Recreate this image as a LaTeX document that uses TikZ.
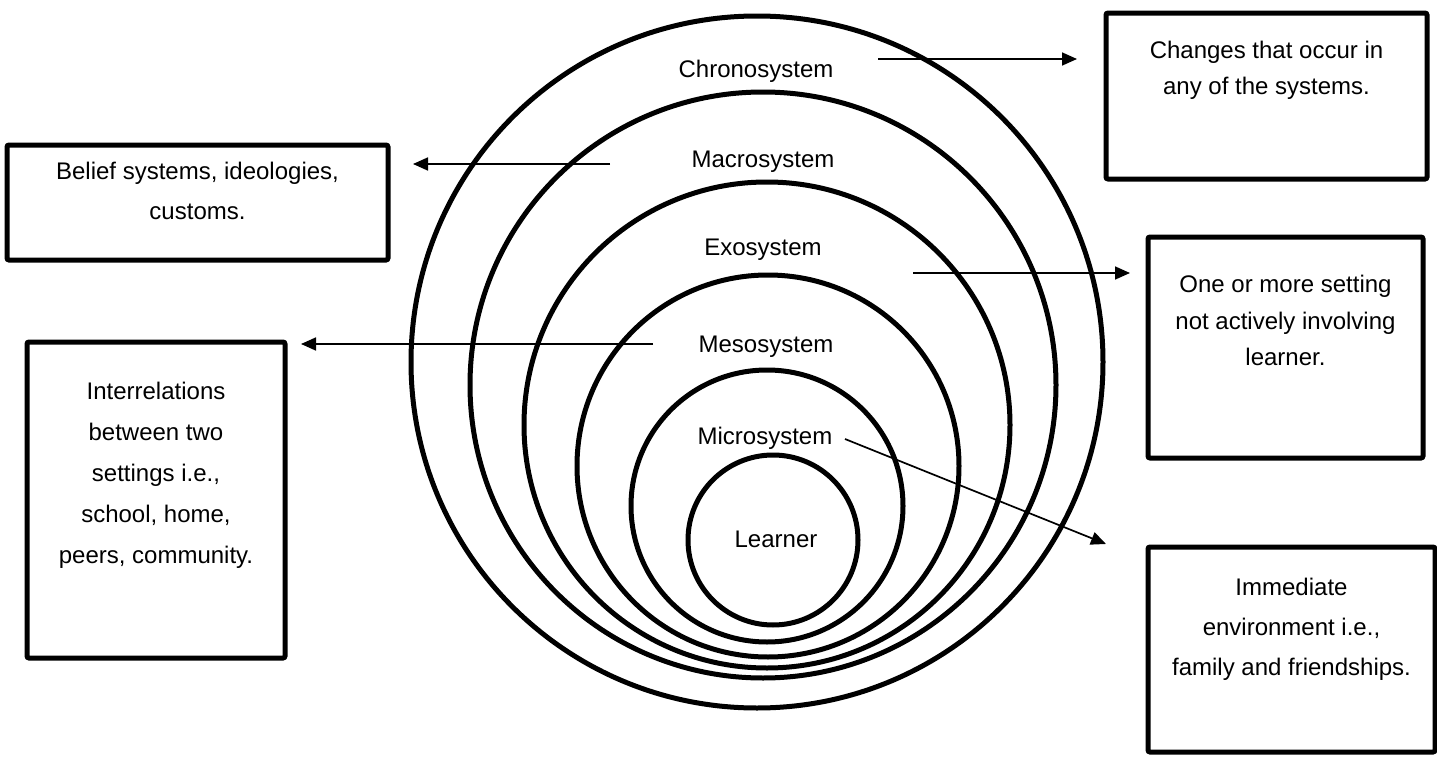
\documentclass[tikz,border=0pt]{standalone}
\usepackage{fontspec}
\setmainfont{Liberation Sans}
\usetikzlibrary{arrows.meta, positioning}

\begin{document}
\begin{tikzpicture}[x=0.5pt,y=-0.5pt,%
  RingStyle/.style={draw=black,line width=2.5pt},
  LabelStyle/.style={anchor=base,inner sep=0pt,font=\fontsize{12}{14}\selectfont},
  BoxStyle/.style={draw=black,line width=2.5pt,rounded corners=1pt,inner sep=0pt},
  BoxText/.style={anchor=north,align=center,inner sep=0pt,font=\fontsize{12}{20}\selectfont},
  ArrowStyle/.style={line width=0.85pt,-{Triangle[length=7.5pt,width=6.5pt]}}]
  \useasboundingbox (0,0) rectangle (1437,760);
  % the rings, outermost first
  \draw[RingStyle] (757,362) circle[radius=346];   % chronosystem
  \draw[RingStyle] (763,385) circle[radius=293];   % macrosystem
  \draw[RingStyle] (767,425) circle[radius=243];   % exosystem
  \draw[RingStyle] (768,466) circle[radius=191];   % mesosystem
  \draw[RingStyle] (767,506) circle[radius=136];   % microsystem
  \draw[RingStyle] (773,540) circle[radius=85];    % learner
  \node[LabelStyle] (chrono) at (756,77)  {Chronosystem};
  \node[LabelStyle] (macro)  at (763,167) {Macrosystem};
  \node[LabelStyle] (exo)    at (763,255) {Exosystem};
  \node[LabelStyle] (meso)   at (766,352) {Mesosystem};
  \node[LabelStyle] (micro)  at (765,444) {Microsystem};
  \node[LabelStyle] (learner) at (776,547) {Learner};
  % the boxes
  \node[BoxStyle,minimum width=160.5pt,minimum height=83pt] (changesbox) at (1266.5,96) {};
  \node[BoxText,font=\fontsize{12}{18}\selectfont,below=15.25pt of changesbox.north] (changestext)
    {Changes that occur in\\any of the systems.};
  \node[BoxStyle,minimum width=190.5pt,minimum height=57.5pt] (beliefbox) at (197.5,202.5) {};
  \node[BoxText,below=9.75pt of beliefbox.north] (belieftext)
    {Belief systems, ideologies,\\customs.};
  \node[BoxStyle,minimum width=137.5pt,minimum height=110.5pt] (settingbox) at (1285.5,347.5) {};
  \node[BoxText,font=\fontsize{12}{18.25}\selectfont,below=20.25pt of settingbox.north] (settingtext)
    {One or more setting\\not actively involving\\learner.};
  \node[BoxStyle,minimum width=129pt,minimum height=158pt] (interbox) at (156,500) {};
  \node[BoxText,font=\fontsize{12}{20.5}\selectfont,below=21.25pt of interbox.north] (intertext)
    {Interrelations\\between two\\settings i.e.,\\school, home,\\peers, community.};
  \node[BoxStyle,minimum width=143.5pt,minimum height=102.5pt] (immediatebox) at (1291.5,649.5) {};
  \node[BoxText,below=16.75pt of immediatebox.north] (immediatetext)
    {Immediate\\environment i.e.,\\family and friendships.};
  % the arrows
  \coordinate (chronoS) at (878,59);   \coordinate (chronoE) at (1077,59);
  \coordinate (macroS)  at (610,164);  \coordinate (macroE)  at (413,164);
  \coordinate (exoS)    at (913,273);  \coordinate (exoE)    at (1130,273);
  \coordinate (mesoS)   at (653,344);  \coordinate (mesoE)   at (301,344);
  \coordinate (microS)  at (845,439);  \coordinate (microE)  at (1106,544);
  \draw[ArrowStyle] (chronoS) -- (chronoE);
  \draw[ArrowStyle] (macroS) -- (macroE);
  \draw[ArrowStyle] (exoS) -- (exoE);
  \draw[ArrowStyle] (mesoS) -- (mesoE);
  \draw[ArrowStyle] (microS) -- (microE);
\end{tikzpicture}
\end{document}
